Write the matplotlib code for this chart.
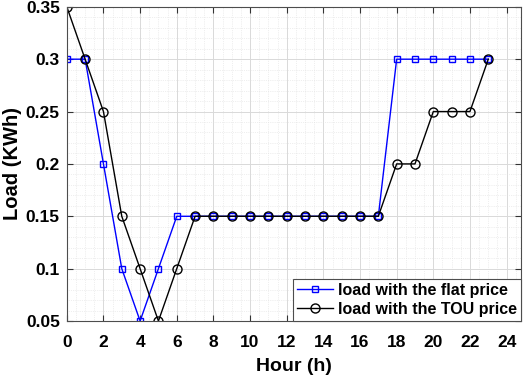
import numpy as np
import matplotlib.pyplot as plt
from matplotlib.ticker import MultipleLocator

plt.rcParams['font.family'] = ['Liberation Sans', 'DejaVu Sans']
plt.rcParams['font.weight'] = 'bold'

hours = list(range(24))
flat_load = [0.3, 0.3, 0.2, 0.1, 0.05, 0.1, 0.15, 0.15, 0.15, 0.15, 0.15, 0.15,
             0.15, 0.15, 0.15, 0.15, 0.15, 0.15, 0.3, 0.3, 0.3, 0.3, 0.3, 0.3]
tou_load = [0.35, 0.3, 0.25, 0.15, 0.1, 0.05, 0.1, 0.15, 0.15, 0.15, 0.15, 0.15,
            0.15, 0.15, 0.15, 0.15, 0.15, 0.15, 0.2, 0.2, 0.25, 0.25, 0.25, 0.3]

fig = plt.figure(figsize=(5.26, 3.79), dpi=100)
ax = fig.add_axes([0.127, 0.153, 0.864, 0.829])

ax.plot(hours, flat_load, color='b', lw=1.0, marker='s', ms=4.5, mfc='none', mew=1.0,
        label='load with the flat price')
ax.plot(hours, tou_load, color='k', lw=1.0, marker='o', ms=6.5, mfc='none', mew=1.0,
        label='load with the TOU price')

ax.set_xlim(0, 24.8)
ax.set_ylim(0.05, 0.35)
ax.xaxis.set_major_locator(MultipleLocator(2))
ax.xaxis.set_minor_locator(MultipleLocator(0.5))
ax.yaxis.set_minor_locator(MultipleLocator(0.01))
ax.set_yticks([0.05, 0.1, 0.15, 0.2, 0.25, 0.3, 0.35])
ax.set_yticklabels(['0.05', '0.1', '0.15', '0.2', '0.25', '0.3', '0.35'])

# light major grid, dotted minor grid
ax.grid(True, which='major', color='0.85', lw=0.7)
ax.grid(True, which='minor', color='0.88', lw=0.5, ls=':')
ax.set_axisbelow(True)

ax.tick_params(which='both', direction='in', top=True, right=True, color='0.2')
ax.tick_params(which='minor', length=0)
ax.tick_params(which='major', length=4, labelsize=12.5)
ax.tick_params(axis='x', pad=10)
ax.tick_params(axis='y', pad=5)
for s in ax.spines.values():
    s.set_color('0.3')
    s.set_linewidth(0.8)

ax.set_xlabel('Hour (h)', fontsize=14, fontweight='bold', labelpad=6)
ax.set_ylabel('Load (KWh)', fontsize=14.5, fontweight='bold', labelpad=3)

leg = ax.legend(loc='lower right', fontsize=11.5, fancybox=False, edgecolor='0.3',
                framealpha=1, borderpad=0.25, labelspacing=0.25, handlelength=2.3,
                handletextpad=0.3, borderaxespad=0)
leg.get_frame().set_linewidth(0.8)

fig.savefig('out.png', dpi=100)
